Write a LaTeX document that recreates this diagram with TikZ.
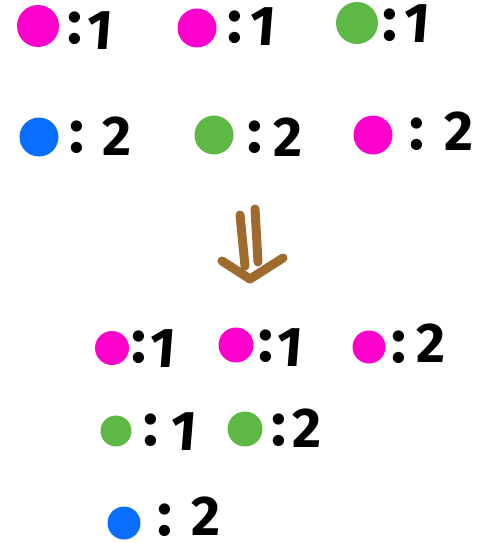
\documentclass[tikz,border=0pt]{standalone}
\usepackage{fontspec}
\setmainfont{Fira Sans}
\definecolor{pinkdot}{HTML}{FF00CC}
\definecolor{greendot}{HTML}{5DB845}
\definecolor{bluedot}{HTML}{0A6EFF}
\definecolor{arrowbrown}{HTML}{9E6A2E}
\tikzset{
  dot/.style={circle, inner sep=0pt, minimum size=#1, draw=none},
  colontext/.style={inner sep=0pt, font=\fontsize{62}{62}\selectfont\bfseries},
  digittext/.style={inner sep=0pt, font=\fontsize{56}{56}\selectfont\bfseries},
  brownstroke/.style={draw=arrowbrown, line width=9pt, line cap=round, line join=round}
}
\begin{document}
\begin{tikzpicture}[x=1pt,y=-1pt]
\useasboundingbox (0,0) rectangle (481,543);
% top row
\node[dot=42pt, fill=pinkdot] (p1) at (38,26) {};
\node[colontext] (c1) at (75,28) {:};
\node[digittext, xslant=0.08] (d1) at (100,31) {1};
\node[dot=39pt, fill=pinkdot] (p2) at (197,28) {};
\node[colontext] (c2) at (235,27) {:};
\node[digittext, xslant=0.08] (d2) at (263,27) {1};
\node[dot=42pt, fill=greendot] (g1) at (357,23) {};
\node[colontext] (c3) at (390,25) {:};
\node[digittext, xslant=0.08] (d3) at (417,24) {1};
% second row
\node[dot=39pt, fill=bluedot] (b1) at (39,137) {};
\node[colontext] (c4) at (77,137) {:};
\node[digittext] (d4) at (117,136) {2};
\node[dot=39pt, fill=greendot] (g2) at (214,135) {};
\node[colontext] (c5) at (255,137) {:};
\node[digittext] (d5) at (288,137) {2};
\node[dot=39pt, fill=pinkdot] (p3) at (373,135) {};
\node[colontext] (c6) at (417,134) {:};
\node[digittext] (d6) at (459,131) {2};
% arrow
\coordinate (ls) at (240,215);
\coordinate (le) at (245,266);
\coordinate (rs) at (255,209);
\coordinate (re) at (258,262);
\coordinate (hl) at (222,261);
\coordinate (ht) at (250,279);
\coordinate (hr) at (283,258);
\draw[brownstroke] (ls) -- (le);
\draw[brownstroke] (rs) -- (re);
\draw[brownstroke] (hl) -- (ht) -- (hr);
% result row A
\node[dot=34pt, fill=pinkdot] (p4) at (112,348) {};
\node[colontext] (c7) at (139,347) {:};
\node[digittext, xslant=0.08] (d7) at (163,349) {1};
\node[dot=35pt, fill=pinkdot] (p5) at (236,345) {};
\node[colontext] (c8) at (266,346) {:};
\node[digittext, xslant=0.08] (d8) at (290,348) {1};
\node[dot=33pt, fill=pinkdot] (p6) at (369,347) {};
\node[colontext] (c9) at (399,347) {:};
\node[digittext] (d9) at (431,343) {2};
% result row B
\node[dot=31pt, fill=greendot] (g3) at (116,431) {};
\node[colontext] (c10) at (151,430) {:};
\node[digittext, xslant=0.08] (d10) at (184,432) {1};
\node[dot=35pt, fill=greendot] (g4) at (245,429) {};
\node[colontext] (c11) at (279,430) {:};
\node[digittext] (d11) at (307,428) {2};
% result row C
\node[dot=33pt, fill=bluedot] (b2) at (124,523) {};
\node[colontext] (c12) at (165,520) {:};
\node[digittext] (d12) at (206,516) {2};
\end{tikzpicture}
\end{document}
